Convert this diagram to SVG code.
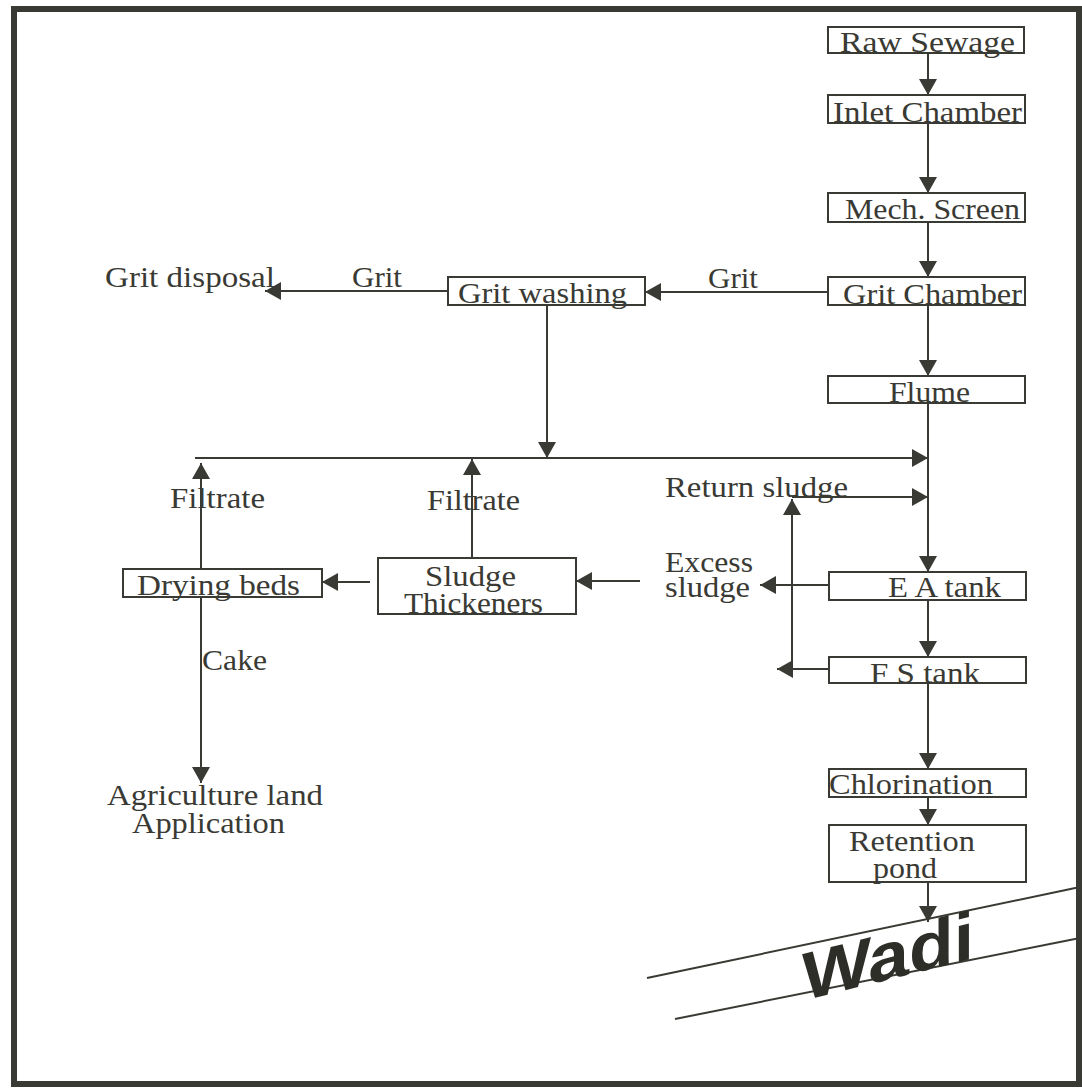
<svg xmlns="http://www.w3.org/2000/svg" width="1082" height="1088" viewBox="0 0 1082 1088">
<style>
.box{fill:#fff;stroke:#3a3a34;stroke-width:2}
.t{font-family:"Liberation Serif","Times New Roman",serif;font-size:29px;fill:#3a3a34}
.ln{fill:none;stroke:#3a3a34;stroke-width:2}
.arr{marker-end:url(#ah)}
.w{font-family:"Liberation Sans",Arial,sans-serif;font-weight:bold;font-size:68px;fill:#2e2e28}
</style>
<defs>
<marker id="ah" markerUnits="userSpaceOnUse" viewBox="0 0 16 18" refX="16" refY="9" markerWidth="16" markerHeight="18" orient="auto">
<path d="M0,0 L16,9 L0,18 z" fill="#3a3a34"/>
</marker>
</defs>
<rect x="0" y="0" width="1082" height="1088" fill="#fff"/>
<rect x="14" y="9" width="1065" height="1075" fill="none" stroke="#3a3a34" stroke-width="6"/>

<g id="connectors">
<path class="ln arr" d="M928,53 V95"/>
<path class="ln arr" d="M928,123 V193"/>
<path class="ln arr" d="M928,222 V277"/>
<path class="ln arr" d="M928,305 V376"/>
<path class="ln arr" d="M928,403 V572"/>
<path class="ln arr" d="M928,600 V657"/>
<path class="ln arr" d="M928,683 V769"/>
<path class="ln arr" d="M928,797 V825"/>
<path class="ln arr" d="M928,882 V922"/>
<path class="ln arr" d="M828,292 H645"/>
<path class="ln arr" d="M448,291 H265"/>
<path class="ln arr" d="M547,305 V458"/>
<path class="ln arr" d="M195,458 H928"/>
<path class="ln arr" d="M201,569 V463"/>
<path class="ln arr" d="M472,558 V459"/>
<path class="ln arr" d="M829,585 H760"/>
<path class="ln arr" d="M829,669 H777"/>
<path class="ln arr" d="M792,669 V499"/>
<path class="ln arr" d="M792,497 H928"/>
<path class="ln arr" d="M640,581 H576"/>
<path class="ln arr" d="M370,582 H322"/>
<path class="ln arr" d="M201,597 V783"/>
<path class="ln" d="M647,978 L1080,887"/>
<path class="ln" d="M675,1019 L1080,938"/>
</g>

<g id="raw-sewage"><rect class="box" x="828" y="27" width="196" height="26"/><text class="t" x="840" y="52" textLength="175" lengthAdjust="spacingAndGlyphs">Raw Sewage</text></g>
<g id="inlet-chamber"><rect class="box" x="828" y="95" width="197" height="28"/><text class="t" x="833" y="122" textLength="189" lengthAdjust="spacingAndGlyphs">Inlet Chamber</text></g>
<g id="mech-screen"><rect class="box" x="828" y="193" width="197" height="29"/><text class="t" x="845" y="219" textLength="175" lengthAdjust="spacingAndGlyphs">Mech. Screen</text></g>
<g id="grit-chamber"><rect class="box" x="828" y="277" width="197" height="28"/><text class="t" x="843" y="304" textLength="179" lengthAdjust="spacingAndGlyphs">Grit Chamber</text></g>
<g id="flume"><rect class="box" x="828" y="376" width="197" height="27"/><text class="t" x="889" y="402" textLength="81" lengthAdjust="spacingAndGlyphs">Flume</text></g>
<g id="ea-tank"><rect class="box" x="829" y="572" width="197" height="28"/><text class="t" x="888" y="597" textLength="113" lengthAdjust="spacingAndGlyphs">E A tank</text></g>
<g id="fs-tank"><rect class="box" x="829" y="657" width="197" height="26"/><text class="t" x="870" y="683" textLength="110" lengthAdjust="spacingAndGlyphs">F S tank</text></g>
<g id="chlorination"><rect class="box" x="829" y="769" width="197" height="28"/><text class="t" x="829" y="794" textLength="164" lengthAdjust="spacingAndGlyphs">Chlorination</text></g>
<g id="retention-pond"><rect class="box" x="829" y="825" width="197" height="57"/><text class="t" x="849" y="851" textLength="126" lengthAdjust="spacingAndGlyphs">Retention</text><text class="t" x="873" y="878" textLength="64" lengthAdjust="spacingAndGlyphs">pond</text></g>
<g id="grit-washing"><rect class="box" x="448" y="277" width="197" height="28"/><text class="t" x="458" y="303" textLength="169" lengthAdjust="spacingAndGlyphs">Grit washing</text></g>
<g id="sludge-thickeners"><rect class="box" x="378" y="558" width="198" height="56"/><text class="t" x="425" y="586" textLength="91" lengthAdjust="spacingAndGlyphs">Sludge</text><text class="t" x="404" y="613" textLength="139" lengthAdjust="spacingAndGlyphs">Thickeners</text></g>
<g id="drying-beds"><rect class="box" x="123" y="569" width="199" height="28"/><text class="t" x="137" y="595" textLength="163" lengthAdjust="spacingAndGlyphs">Drying beds</text></g>
<g id="grit-disposal"><text class="t" x="105" y="287" textLength="170" lengthAdjust="spacingAndGlyphs">Grit disposal</text></g>
<g id="agriculture"><text class="t" x="107" y="805" textLength="216" lengthAdjust="spacingAndGlyphs">Agriculture land</text><text class="t" x="132" y="833" textLength="153" lengthAdjust="spacingAndGlyphs">Application</text></g>
<g id="wadi"><text class="w" transform="translate(802,1001) skewY(-14)" x="0" y="0" textLength="172" lengthAdjust="spacingAndGlyphs">Wadi</text></g>

<g id="labels">
<text class="t" x="708" y="288" textLength="50" lengthAdjust="spacingAndGlyphs">Grit</text>
<text class="t" x="352" y="287" textLength="50" lengthAdjust="spacingAndGlyphs">Grit</text>
<text class="t" x="170" y="508" textLength="95" lengthAdjust="spacingAndGlyphs">Filtrate</text>
<text class="t" x="427" y="510" textLength="93" lengthAdjust="spacingAndGlyphs">Filtrate</text>
<text class="t" x="665" y="497" textLength="183" lengthAdjust="spacingAndGlyphs">Return sludge</text>
<text class="t" x="665" y="572" textLength="88" lengthAdjust="spacingAndGlyphs">Excess</text>
<text class="t" x="665" y="597" textLength="85" lengthAdjust="spacingAndGlyphs">sludge</text>
<text class="t" x="202" y="670" textLength="65" lengthAdjust="spacingAndGlyphs">Cake</text>
</g>
</svg>
